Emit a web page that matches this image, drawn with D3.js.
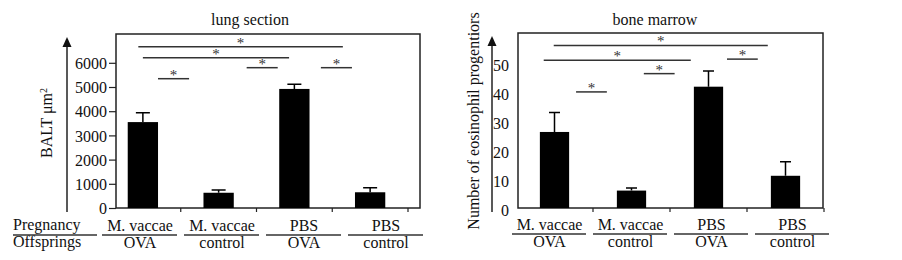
<!DOCTYPE html>
<html>
<head>
<meta charset="utf-8">
<script src="https://cdn.jsdelivr.net/npm/d3@7"></script>
<style>
  body { margin: 0; background: #fff; }
  svg text { font-family: "Liberation Serif", "Times New Roman", serif; fill: #111; }
</style>
</head>
<body>
<div id="chart"></div>
<script>
// Data
const groups = ["MV-OVA", "MV-control", "PBS-OVA", "PBS-control"];
const pregnancy = ["M. vaccae", "M. vaccae", "PBS", "PBS"];
const offspring = ["OVA", "control", "OVA", "control"];

const lungMeans = [3550, 630, 4920, 650];
const lungErrTop = [3940, 740, 5110, 840];
const lungTicks = [0, 1000, 2000, 3000, 4000, 5000, 6000];
// significance bars: [from (band units), to (band units), y value]
const lungSig = [[0.44, 3.14, 6665], [0.50, 2.43, 6210], [0.70, 1.11, 5343], [1.87, 2.28, 5798], [2.85, 3.26, 5798]];

const boneMeans = [26.2, 6.0, 41.8, 11.1];
const boneErrTop = [32.9, 6.9, 47.2, 15.9];
const boneTicks = [0, 10, 20, 30, 40, 50];
const boneSig = [[0.49, 3.27, 56.0], [0.36, 2.27, 50.9], [1.66, 2.06, 46.3], [0.78, 1.18, 40.0], [2.74, 3.14, 51.3]];

const svg = d3.select("#chart")
    .append("svg")
    .attr("width", 902)
    .attr("height", 260)
    .attr("font-family", "Liberation Serif, Times New Roman, serif");

function panel(opt) {
    const g = svg.append("g");

    // Scales
    const x = d3.scaleBand()
        .domain(groups)
        .range(opt.xRange)
        .paddingInner(opt.pad)
        .paddingOuter(opt.pad / 2);

    const y = d3.scaleLinear()
        .domain([0, opt.yMax])
        .range([opt.bottom, opt.top]);

    const lab = d3.scaleBand()
        .domain(groups)
        .range(opt.labRange);

    const edge = i => opt.xRange[0] + x.step() * i;

    // Frame
    g.append("rect")
        .attr("x", opt.boxLeft)
        .attr("y", opt.top)
        .attr("width", opt.boxRight - opt.boxLeft)
        .attr("height", opt.bottom - opt.top)
        .attr("fill", "none")
        .attr("stroke", "#222")
        .attr("stroke-width", 1.5);

    // Title
    g.append("text")
        .attr("x", opt.titleX)
        .attr("y", 25)
        .attr("text-anchor", "middle")
        .style("font-size", "16px")
        .text(opt.title);

    // Y axis
    const ax = g.append("g")
        .attr("transform", `translate(${opt.boxLeft},0)`)
        .call(d3.axisLeft(y).tickValues(opt.ticks).tickSize(opt.tickSize).tickPadding(opt.tickPad).tickFormat(d3.format("d")));
    ax.attr("font-family", null);
    ax.select(".domain").remove();
    ax.selectAll("line").attr("stroke", "#222").attr("stroke-width", 1.2);
    ax.selectAll("text")
        .style("font-size", "16px")
        .attr("dy", opt.tickDy);

    // X axis small ticks
    g.selectAll(".xt")
        .data([1, 2, 3, 4])
        .enter().append("line")
        .attr("x1", d => edge(d))
        .attr("x2", d => edge(d))
        .attr("y1", opt.bottom)
        .attr("y2", opt.bottom + 4)
        .attr("stroke", "#222")
        .attr("stroke-width", 1.2);

    // Arrow axis
    g.append("line")
        .attr("x1", opt.arrowX).attr("x2", opt.arrowX)
        .attr("y1", opt.bottom + 4).attr("y2", opt.top + 10)
        .attr("stroke", "#222").attr("stroke-width", 1.5);
    g.append("path")
        .attr("d", `M${opt.arrowX},${opt.top + 3} l-4.5,10 l9,0 z`)
        .attr("fill", "#111");

    // Y label
    const yl = g.append("text")
        .attr("transform", `translate(${opt.yLabelX},${opt.yLabelY}) rotate(-90)`)
        .attr("text-anchor", "middle")
        .style("font-size", "16px");
    yl.append("tspan").text(opt.yLabel);
    if (opt.yLabelSup) {
        yl.append("tspan").attr("dy", "-0.5em").style("font-size", "10px").text(opt.yLabelSup);
    }

    // Bars
    g.selectAll(".bar")
        .data(groups)
        .enter().append("rect")
        .attr("class", "bar")
        .attr("x", d => x(d))
        .attr("y", (d, i) => y(opt.means[i]))
        .attr("width", x.bandwidth())
        .attr("height", (d, i) => opt.bottom - y(opt.means[i]))
        .attr("fill", "#000");

    // Error bars
    const cap = opt.cap;
    g.selectAll(".err")
        .data(groups)
        .enter().append("path")
        .attr("d", (d, i) => {
            const cx = x(d) + x.bandwidth() / 2;
            return `M${cx},${y(opt.means[i])}V${y(opt.errTop[i])}M${cx - cap / 2},${y(opt.errTop[i])}H${cx + cap / 2}`;
        })
        .attr("stroke", "#000")
        .attr("stroke-width", 1.5)
        .attr("fill", "none");

    // Significance lines
    g.selectAll(".sig")
        .data(opt.sig)
        .enter().append("line")
        .attr("x1", d => edge(d[0]))
        .attr("x2", d => edge(d[1]))
        .attr("y1", d => y(d[2]))
        .attr("y2", d => y(d[2]))
        .attr("stroke", "#333")
        .attr("stroke-width", 1.5);
    g.selectAll(".star")
        .data(opt.sig)
        .enter().append("text")
        .attr("x", d => (edge(d[0]) + edge(d[1])) / 2)
        .attr("y", d => y(d[2]) + 1)
        .attr("text-anchor", "middle")
        .style("font-size", "15px")
        .style("fill", "#333")
        .text("*");

    // Category table
    g.selectAll(".preg")
        .data(groups)
        .enter().append("text")
        .attr("x", d => lab(d) + lab.bandwidth() / 2)
        .attr("y", opt.labY - 4)
        .attr("text-anchor", "middle")
        .style("font-size", "16px")
        .text((d, i) => pregnancy[i]);
    g.selectAll(".off")
        .data(groups)
        .enter().append("text")
        .attr("x", d => lab(d) + lab.bandwidth() / 2)
        .attr("y", opt.labY + 13)
        .attr("text-anchor", "middle")
        .style("font-size", "16px")
        .text((d, i) => offspring[i]);
    g.selectAll(".uline")
        .data(groups)
        .enter().append("line")
        .attr("x1", d => lab(d) + 3)
        .attr("x2", d => lab(d) + lab.bandwidth() - 4)
        .attr("y1", opt.labY)
        .attr("y2", opt.labY)
        .attr("stroke", "#333")
        .attr("stroke-width", 1.3);

    if (opt.rowLabels) {
        g.append("text").attr("x", 13).attr("y", opt.labY - 5).style("font-size", "16px").text("Pregnancy");
        g.append("text").attr("x", 13).attr("y", opt.labY + 12).style("font-size", "16px").text("Offsprings");
        g.append("line")
            .attr("x1", 13).attr("x2", 97)
            .attr("y1", opt.labY).attr("y2", opt.labY)
            .attr("stroke", "#333").attr("stroke-width", 1.3);
    }
}

panel({
    title: "lung section", titleX: 250,
    xRange: [105, 408], pad: 0.6,
    boxLeft: 116, boxRight: 420, top: 34, bottom: 208, yMax: 7190,
    ticks: lungTicks, tickSize: 7, tickPad: 2, tickDy: "0.35em",
    means: lungMeans, errTop: lungErrTop, sig: lungSig, cap: 14,
    arrowX: 67, yLabelX: 52, yLabelY: 123, yLabel: "BALT  μm", yLabelSup: "2",
    labRange: [99, 427], labY: 235, rowLabels: true
});

panel({
    title: "bone marrow", titleX: 655,
    xRange: [516, 824], pad: 0.62,
    boxLeft: 518, boxRight: 823, top: 33, bottom: 208, yMax: 60.3,
    ticks: boneTicks, tickSize: 0, tickPad: 9, tickDy: "0.45em",
    means: boneMeans, errTop: boneErrTop, sig: boneSig, cap: 11,
    arrowX: 492, yLabelX: 479, yLabelY: 121, yLabel: "Number of eosinophil progentiors",
    labRange: [509, 833], labY: 234, rowLabels: false
});
</script>
</body>
</html>
